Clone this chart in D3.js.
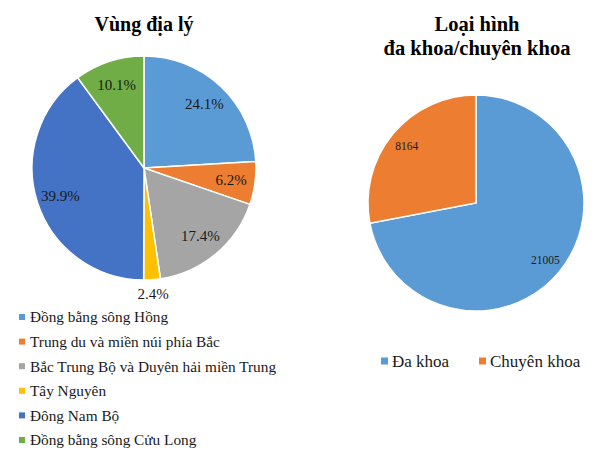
<!DOCTYPE html>
<html>
<head>
<meta charset="utf-8">
<script src="https://cdn.jsdelivr.net/npm/d3@7"></script>
<style>
  body { margin: 0; background: #fff; }
</style>
</head>
<body>
<svg id="chart" width="610" height="451"></svg>
<script>
// left chart: region shares (%)
const regions = ["Đồng bằng sông Hồng", "Trung du và miền núi phía Bắc",
  "Bắc Trung Bộ và Duyên hải miền Trung", "Tây Nguyên", "Đông Nam Bộ",
  "Đồng bằng sông Cửu Long"];
const regionValues = [24.1, 6.2, 17.4, 2.4, 39.9, 10.1];
const regionColors = ["#5B9BD5", "#ED7D31", "#A5A5A5", "#FFC000", "#4472C4", "#70AD47"];

// right chart: type counts
const types = ["Đa khoa", "Chuyên khoa"];
const typeValues = [21005, 8164];
const typeColors = ["#5B9BD5", "#ED7D31"];

const FONT = "'Liberation Serif', 'Times New Roman', serif";
const svg = d3.select("#chart");
const pie = d3.pie().sort(null);

// ---- left pie
let r1 = 112;
let g1 = svg.append("g").attr("transform", "translate(144,168)");
let arc1 = d3.arc().innerRadius(0).outerRadius(r1);
let lab1 = d3.arc().innerRadius(88).outerRadius(88);
let labOut = d3.arc().innerRadius(126).outerRadius(126);
let arcs1 = pie(regionValues);

g1.selectAll("path")
  .data(arcs1)
  .join("path")
  .attr("d", arc1)
  .attr("fill", (d, i) => regionColors[i])
  .attr("stroke", "#fff")
  .attr("stroke-width", 1.5);

g1.selectAll("text")
  .data(arcs1)
  .join("text")
  .attr("transform", d => "translate(" + (d.value < 3 ? labOut : lab1).centroid(d) + ")")
  .attr("text-anchor", "middle")
  .attr("dy", "0.35em")
  .style("font-family", FONT)
  .style("font-size", "15px")
  .attr("fill", "#1a1a1a")
  .text(d => d.value.toFixed(1) + "%");

svg.append("text")
  .attr("x", 144).attr("y", 31)
  .attr("text-anchor", "middle")
  .style("font-family", FONT)
  .style("font-size", "20px").style("font-weight", "bold")
  .text("Vùng địa lý");

let leg1 = svg.append("g");
let rows = leg1.selectAll("g")
  .data(regions)
  .join("g")
  .attr("transform", (d, i) => "translate(19," + (317 + i * 24.6) + ")");
rows.append("rect")
  .attr("x", 0).attr("y", -3).attr("width", 6).attr("height", 6)
  .attr("fill", (d, i) => regionColors[i]);
rows.append("text")
  .attr("x", 11).attr("dy", "0.35em")
  .style("font-family", FONT)
  .style("font-size", "15.3px")
  .attr("fill", "#1a1a1a")
  .text(d => d);

// ---- right pie
let r2 = 108;
let g2 = svg.append("g").attr("transform", "translate(476,203)");
let arc2 = d3.arc().innerRadius(0).outerRadius(r2);
let lab2 = d3.arc().innerRadius(90).outerRadius(90);
let arcs2 = pie(typeValues);

g2.selectAll("path")
  .data(arcs2)
  .join("path")
  .attr("d", arc2)
  .attr("fill", (d, i) => typeColors[i])
  .attr("stroke", "#fff")
  .attr("stroke-width", 1.5);

g2.selectAll("text")
  .data(arcs2)
  .join("text")
  .attr("transform", d => "translate(" + lab2.centroid(d) + ")")
  .attr("text-anchor", "middle")
  .attr("dy", "0.35em")
  .style("font-family", FONT)
  .style("font-size", "11.5px")
  .attr("fill", "#1a1a1a")
  .text(d => d.value);

svg.append("text")
  .attr("x", 477).attr("y", 31)
  .attr("text-anchor", "middle")
  .style("font-family", FONT)
  .style("font-size", "20.5px").style("font-weight", "bold")
  .text("Loại hình");
svg.append("text")
  .attr("x", 477).attr("y", 55)
  .attr("text-anchor", "middle")
  .style("font-family", FONT)
  .style("font-size", "20.5px").style("font-weight", "bold")
  .text("đa khoa/chuyên khoa");

let legX = [381, 479];
let leg2 = svg.append("g").selectAll("g")
  .data(types)
  .join("g")
  .attr("transform", (d, i) => "translate(" + legX[i] + ",361)");
leg2.append("rect")
  .attr("x", 0).attr("y", -3.5).attr("width", 7).attr("height", 7)
  .attr("fill", (d, i) => typeColors[i]);
leg2.append("text")
  .attr("x", 11).attr("dy", "0.35em")
  .style("font-family", FONT)
  .style("font-size", "17px")
  .attr("fill", "#1a1a1a")
  .text(d => d);
</script>
</body>
</html>
